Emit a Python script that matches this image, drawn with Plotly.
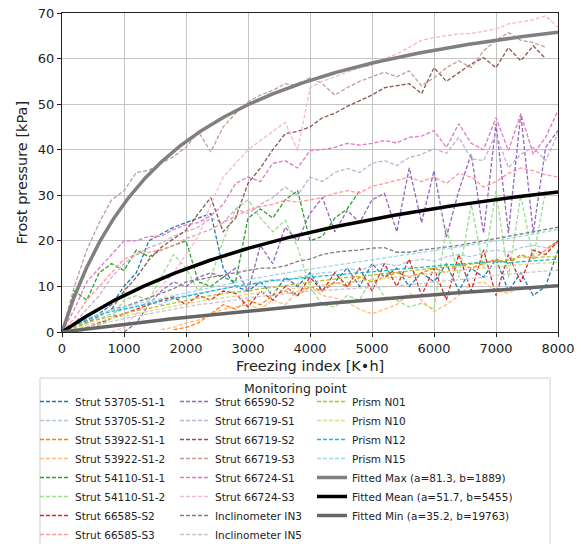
import numpy as np
import plotly.graph_objects as go

# ---------------- data ----------------
freezing_index = [0, 200, 400, 600, 800, 1000, 1200, 1400, 1600, 1800, 2000,
                  2200, 2400, 2600, 2800, 3000, 3200, 3400, 3600, 3800, 4000,
                  4200, 4400, 4600, 4800, 5000, 5200, 5400, 5600, 5800, 6000,
                  6200, 6400, 6600, 6800, 7000, 7200, 7400, 7600, 7800, 8000]
N = None

strut_53705_s1_1 = [0, 1.5, 2.5, 4, 6, 10, 13, 20, 21.5, 23, 24, 25, 26, 14, 10, 9, 11, 8, 12, 10,
                    13, 9, 11, 14, 10, 15, 12, 14, 10, 13, 11, 15, 9, 14, 12, 16, 9, 13, 8, 10, 18]
strut_53705_s1_2 = [0, 1, 2.2, 3, 4, 5, 5.5, 6.5, 6, 7.5, 8, 8.5, 9, 9.5, 10, 10.2, 11, 11.5, 11, 12,
                    12.5, 13, 13.2, 14, 13.5, 14.5, 15, 14.5, 15.5, 16, 15.5, 16.5, 17, 16.5, 17.5,
                    18, 17.5, 18.5, 19, 18.5, 19.5]
strut_53922_s1_1 = [N, N, N, N, N, N, N, N, N, 0.5, 1, 2, 4, 6, 5, 7, 6, 8, 9, 8, 10, 9, 11, 10,
                    12, 11, 12, 13, 12, 13, 14, 13, 15, 14, 15, 16, 15, 17, 16, 18, 20]
strut_53922_s1_2 = [N, N, N, N, N, N, N, N, 0.5, 1, 2, 2.6, 4, 5, 5.5, 6, 5, 7, 6, 9, 10, 8, 7.5,
                    6.5, 5, 4, 5, 6, 8.5, 7, 4.5, 6, 8, 10.5, 11, 9, 8.5, 10, N, N, N]
strut_54110_s1_1 = [0, 9, 7, 13, 15, 13.5, 18, 16.5, 18, 19, 20, 11, 10, 12, 11, 25, 27, 25, 29, 31,
                    20, 21, 25, 27, 31, N, N, N, N, N, N, N, N, N, N, N, N, N, N, N, N]
strut_54110_s1_2 = [0, 0, 0.5, 1.5, 3, 7, 8, 7, 12, 17, 14, 9, 12, 20, 27, 29, 25, 22, 24.5, 18.6,
                    9.8, 6, 5.5, 8, 7, 12, 7.7, 7, 5.5, 6.3, 5, 23, 12, 28, 14, 31, 12, 30, 16, 31, N]
strut_66585_s2 = [0, 0.5, 1, 2, 3, 4, 5, 6, 7, 7.7, 6, 8, 7, 9, 8.5, 5.5, 9, 7, 10, 8, 12, 9, 13,
                  10, 14, 9, 15, 10, 16, 8, 14, 7, 17, 9, 18, 8, 17, 11, 18, 17, 20]
strut_66585_s3 = [0, 3, 7, 10, 13, 16, 17, 17.5, 18, 19, 20.5, 21.5, 22.5, 24, 25.5, 26.7, 27.5,
                  28, 28.9, 28.5, 29, 29.5, 30.4, 31, 30.5, 32, 32.6, 33.3, 34, 33, 34, 32.6, 34.8,
                  34, 31.8, 33, 34.8, 36, 35.4, 34.5, 34]
strut_66590_s2 = [N, N, N, N, N, 0, 2, 6, 9, 11, 10, 12, 13, 12, 14, 9, 19, 15, 23, 20, 26, 29.5,
                  22, 26.7, 24, 29, 30.4, 22, 36, 24, 35.4, 20.8, 31, 39, 21.7, 45.7, 21.7, 47.9,
                  21.7, 40.5, 44.2]
strut_66719_s1 = [0, 2, 5, 8, 12, 15, 17, 18.5, 19.5, 21, 22, 23, 25, 24, 27, 26, 28, 29.5, 31.8,
                  30, 34, 33, 35, 35.9, 35, 37, 37.6, 36.5, 38.3, 39, 40.2, 39.2, 42.7, 38, 37.6,
                  43.5, 36, 39, 40.5, 37.6, 43.5]
strut_66719_s2 = [N, N, N, N, 5, 9, 12, 15.8, 18.6, 20.5, 22.3, 26, 29.5, 22, 25, 32.6, 36, 40,
                  43.5, 44, 45, 47, 48, 49.5, 50.8, 52, 53.6, 54, 54.5, 52.3, 58, 55, 57, 58.8,
                  60.2, 58, 62.4, 59.5, 62.8, 60, N]
strut_66719_s3 = [0, 10, 18, 24, 29, 31, 35, 35.5, 37, 38.5, 40.5, 44, 39.5, 45, 48, 50.5, 52, 53,
                  54.5, 54, 55.8, 54.5, 52, 53.6, 55, 56, 57, 56, 57.3, 54, 55.8, 58, 59.5, 58,
                  61.7, 64, 65.7, 64, 63.5, 62.5, N]
strut_66724_s1 = [0, 5, 11, 14, 17, 20, 20, 21, 21, 22.5, 23.5, 24, 25.5, 28, 32.6, 34, 33, 37,
                  37.6, 36, 39.8, 40, 40.5, 41.4, 41, 41.4, 42, 41.5, 42.7, 43, 44.2, 40.5, 45.7,
                  41.4, 40, 47, 39.8, 47.9, 39, 42.7, 48.6]
strut_66724_s3 = [N, N, N, N, 0, 1, 4, 7, 10, 13, 17, 21, 28, 34, 37, 40, 42, 44, 46, 39.8, 53.6,
                  55, 56, 57, 58, 58.5, 60, 61, 62.5, 64, 64.6, 65, 65.4, 65.5, 66, 66.5, 67.6,
                  68, 68.5, 69.4, 66.8]
inclinometer_in3 = [0, 1, 2, 3.5, 5, 5.5, 6.5, 7.5, 8.5, 9.5, 11, 11.5, 12, 12.5, 13, 13.5, 14,
                    14, 14.5, 15.5, 16, 17, 17.5, 17.8, 18, 18.4, 18.5, 17.5, 17.5, 18, 18.3, 18.6,
                    19, 19.5, 20, 20.5, 21, 21.5, 22, 22.5, 23]
inclinometer_in5 = [0, 0.6, 1.2, 1.8, 2.4, 3, 3.5, 4, 4.5, 5, 5.5, 6, 6.3, 6.6, 7, 7.5, 7.8, 8.2,
                    8.5, 8.8, 9, 9.1, 9.3, 9.5, 9.6, 9.8, 9.9, 10.1, 10.3, 10.6, 11, 11.2, 11.4,
                    11.7, 12, 12.5, 12.7, 12.9, 13.1, 13.3, 13.6]
prism_n01 = [0, 1, 2, 2.8, 3.5, 4, 4.7, 5.2, 5.8, 6.3, 7, 7.5, 8, 8.4, 8.8, 9, 9.5, 9.8, 10.2,
             10.6, 11, 11.3, 11.6, 12, 12.2, 12.5, 12.8, 13, 13.3, 13.6, 14, 14.2, 14.5, 14.8,
             15.1, 15.5, 15.8, 16.5, 16.3, 16.5, 16.5]
prism_n10 = [0, 0.8, 1.6, 2.3, 3, 3.5, 4.1, 4.6, 5.1, 5.6, 6.2, 6.7, 7.1, 7.5, 7.9, 8.2, 8.6, 9,
             9.3, 9.7, 10, 10.3, 10.6, 10.9, 11.2, 11.5, 11.8, 12.1, 12.4, 12.7, 13, 13.2, 13.5,
             13.8, 14, 14.3, 14.5, 14.8, 15, 15.2, 15.3]
prism_n12 = [0, 1.5, 2.8, 3.8, 4.5, 5, 5.6, 6.2, 6.8, 7.3, 7.8, 8.4, 9, 9.5, 10, 10.5, 10.8, 11.3,
             11.5, 11.8, 12, 12.3, 12.5, 12.8, 13, 13.2, 13.5, 13.7, 14, 14.2, 14.5, 14.7, 14.9,
             15.1, 15.3, 15.5, 15.2, 15.4, 15.6, 15.8, 16]
prism_n15 = [0, 1.6, 3, 4, 4.8, 5.5, 6.2, 6.8, 7.4, 8, 8.5, 9.2, 9.8, 10.4, 11, 11.5, 12, 12.5,
             13, 13.4, 13.8, 14.2, 14.6, 15, 15.4, 15.8, 16.2, 16.6, 17, 17.4, 17.8, 18.2, 18.6,
             19, 19.5, 20, 20.5, 21, 21.5, 22, 22.5]

series_names = ["Strut 53705-S1-1", "Strut 53705-S1-2", "Strut 53922-S1-1", "Strut 53922-S1-2",
                "Strut 54110-S1-1", "Strut 54110-S1-2", "Strut 66585-S2", "Strut 66585-S3",
                "Strut 66590-S2", "Strut 66719-S1", "Strut 66719-S2", "Strut 66719-S3",
                "Strut 66724-S1", "Strut 66724-S3", "Inclinometer IN3", "Inclinometer IN5",
                "Prism N01", "Prism N10", "Prism N12", "Prism N15"]
series_data = [strut_53705_s1_1, strut_53705_s1_2, strut_53922_s1_1, strut_53922_s1_2,
               strut_54110_s1_1, strut_54110_s1_2, strut_66585_s2, strut_66585_s3,
               strut_66590_s2, strut_66719_s1, strut_66719_s2, strut_66719_s3,
               strut_66724_s1, strut_66724_s3, inclinometer_in3, inclinometer_in5,
               prism_n01, prism_n10, prism_n12, prism_n15]
series_colors = ["#1f77b4", "#aec7e8", "#ff7f0e", "#ffbb78", "#2ca02c", "#98df8a", "#d62728",
                 "#ff9896", "#9467bd", "#c5b0d5", "#8c564b", "#c49c94", "#e377c2", "#f7b6d2",
                 "#7f7f7f", "#c7c7c7", "#bcbd22", "#dbdb8d", "#17becf", "#9edae5"]

fit_labels = ["Max", "Mean", "Min"]
fit_a = [81.3, 51.7, 35.2]
fit_b = [1889, 5455, 19763]
fit_colors = ["#808080", "#000000", "#666666"]

# ---------------- figure ----------------
W, H = 581, 544
ML, MR, MT, MB = 62, 23, 13, 212
PW, PH = W - ML - MR, H - MT - MB
FONT = "DejaVu Sans"


def px_x(p):
    return (p - ML) / PW


def px_y(p):
    return (H - MB - p) / PH


fig = go.Figure()
legends = ["legend"] * 8 + ["legend2"] * 8 + ["legend3"] * 7

for i, (name, vals, col) in enumerate(zip(series_names, series_data, series_colors)):
    fig.add_trace(go.Scatter(
        x=freezing_index, y=vals, mode="lines", name=name,
        line=dict(color=col, width=1.3, dash="4px,2px"),
        connectgaps=False, legend=legends[i]))

x_fit = np.linspace(0, 8000, 401)
for j, (lab, a, b, col) in enumerate(zip(fit_labels, fit_a, fit_b, fit_colors)):
    fig.add_trace(go.Scatter(
        x=x_fit, y=a * x_fit / (b + x_fit), mode="lines",
        name=f"Fitted {lab} (a={a}, b={b})",
        line=dict(color=col, width=3.5), legend=legends[20 + j]))

axis_common = dict(
    showgrid=True, gridcolor="#c4c4c4", gridwidth=1,
    showline=True, linecolor="#222", linewidth=1.2, mirror=True,
    ticks="outside", ticklen=4, tickcolor="#222", zeroline=False,
    tickfont=dict(family=FONT, size=13, color="#222"),
)

leg_common = dict(
    xref="container", yref="container", xanchor="left", yanchor="top",
    bgcolor="rgba(0,0,0,0)", borderwidth=0, itemwidth=30,
    font=dict(family=FONT, size=10.5, color="#222"), tracegroupgap=0,
    orientation="v", itemclick=False, itemdoubleclick=False,
)
leg_top = 1 - 387 / H

fig.update_layout(
    width=W, height=H,
    margin=dict(l=ML, r=MR, t=MT, b=MB, autoexpand=False),
    paper_bgcolor="white", plot_bgcolor="white",
    font=dict(family=FONT, color="#222"),
    xaxis=dict(range=[0, 8000], dtick=1000, tick0=0, **axis_common),
    yaxis=dict(range=[0, 70], dtick=10, tick0=0, **axis_common),
    legend=dict(x=35 / W, y=leg_top, **leg_common),
    legend2=dict(x=175 / W, y=leg_top, **leg_common),
    legend3=dict(x=312 / W, y=leg_top, **leg_common),
    showlegend=True,
    shapes=[dict(type="rect", xref="paper", yref="paper",
                 x0=px_x(40), x1=px_x(550), y0=px_y(378), y1=px_y(570),
                 line=dict(color="#d0d0d0", width=1), fillcolor="rgba(0,0,0,0)",
                 layer="above")],
    annotations=[
        dict(text="Monitoring point", xref="paper", yref="paper",
             x=px_x(295), y=px_y(388), xanchor="center", yanchor="middle",
             showarrow=False, font=dict(family=FONT, size=12.5, color="#222")),
        dict(text="Freezing index [K•h]", xref="paper", yref="paper",
             x=0.5, y=px_y(366), xanchor="center", yanchor="middle",
             showarrow=False, font=dict(family=FONT, size=14.5, color="#222")),
        dict(text="Frost pressure [kPa]", xref="paper", yref="paper",
             x=px_x(21), y=0.5, xanchor="center", yanchor="middle", textangle=-90,
             showarrow=False, font=dict(family=FONT, size=14.5, color="#222")),
    ],
)

fig.write_html("out.html", config={"displayModeBar": False},
               post_script="document.body.style.margin='0px';")
